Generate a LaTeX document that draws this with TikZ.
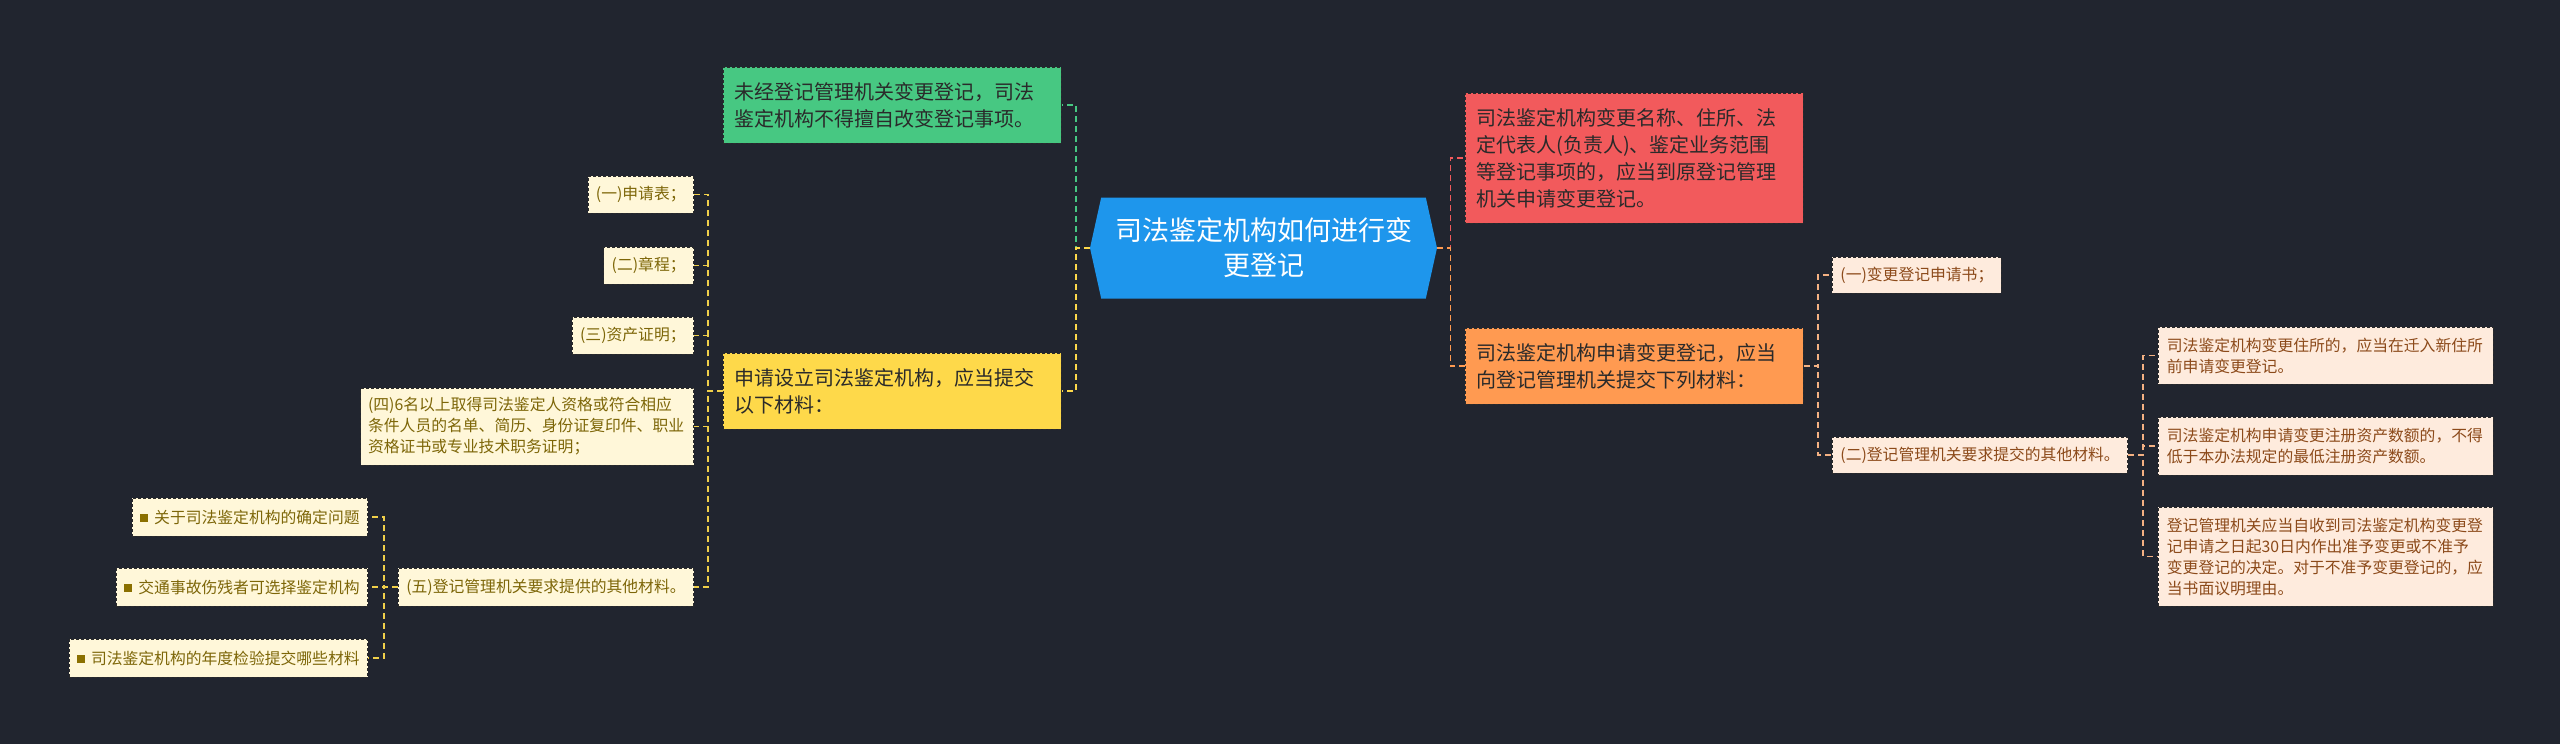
\documentclass[tikz,border=0pt]{standalone}
\usepackage{fontspec}
\newfontfamily\cjk{Noto Sans CJK SC}
\usetikzlibrary{shapes.symbols}
\XeTeXlinebreaklocale "zh"

\definecolor{bgdark}{HTML}{21252F}
\definecolor{rootblue}{HTML}{1E96EC}
\definecolor{topicgreen}{HTML}{47C882}
\definecolor{topicyellow}{HTML}{FED94A}
\definecolor{topicred}{HTML}{F25A5C}
\definecolor{topicorange}{HTML}{FF9A51}
\definecolor{textdark}{HTML}{2A2A2A}
\definecolor{boxedge}{HTML}{2B2B2B}
\definecolor{peach}{HTML}{FEEBDD}
\definecolor{peachtext}{HTML}{8C4A1A}
\definecolor{peachline}{HTML}{F4B183}
\definecolor{cream}{HTML}{FFF7D9}
\definecolor{creamtext}{HTML}{7D6608}
\definecolor{creamline}{HTML}{F0D04A}
\definecolor{bulletolive}{HTML}{8B7000}

\newcommand{\sqbullet}{\textcolor{bulletolive}{\raisebox{1.5pt}{\rule{8pt}{8pt}}}\hspace{6pt}}

\tikzset{
  root/.style={signal, signal to=west and east, signal pointer angle=155,
    fill=rootblue, text=white, align=center, text width=300pt,
    minimum width=347pt, minimum height=101pt, inner sep=0pt,
    font=\cjk\fontsize{27}{35}\selectfont},
  box/.style={draw=boxedge, line width=0.8pt, dash pattern=on 3pt off 2pt,
    align=left, inner xsep=11pt, inner ysep=5pt},
  topic/.style={box, text=textdark, font=\cjk\fontsize{20}{27}\selectfont},
  item/.style={box, inner xsep=8pt, font=\cjk\fontsize{15.8}{21}\selectfont},
  ritem/.style={item, fill=peach, text=peachtext},
  litem/.style={item, fill=cream, text=creamtext},
  link/.style={line width=1.4pt, dash pattern=on 6pt off 4pt},
}

\begin{document}
\begin{tikzpicture}[x=1pt, y=-1pt]
% 1. 背景
\fill[bgdark] (0,0) rectangle (2560,744);
\useasboundingbox (0,0) rectangle (2560,744);

% 2. 中心主题
\node[root] (root) at (1263.5,248) {司法鉴定机构如何进行变\\更登记};

% 3. 一级主题
\node[topic, fill=topicgreen, anchor=west, text width=316pt, minimum height=76pt] (unreg) at (723,105)
  {未经登记管理机关变更登记，司法\\鉴定机构不得擅自改变登记事项。};
\node[topic, fill=topicyellow, anchor=west, text width=316pt, minimum height=76pt] (setup) at (723,391)
  {申请设立司法鉴定机构，应当提交\\以下材料：};
\node[topic, fill=topicred, anchor=west, text width=316pt, minimum height=130pt] (alter) at (1465,158)
  {司法鉴定机构变更名称、住所、法\\定代表人(负责人)、鉴定业务范围\\等登记事项的，应当到原登记管理\\机关申请变更登记。};
\node[topic, fill=topicorange, anchor=west, text width=316pt, minimum height=76pt] (apply) at (1465,366)
  {司法鉴定机构申请变更登记，应当\\向登记管理机关提交下列材料：};

% 4. 右侧分支
\node[ritem, anchor=west, minimum height=36pt] (form) at (1832,275) {(一)变更登记申请书；};
\node[ritem, anchor=west, minimum height=36pt] (other) at (1832,455) {(二)登记管理机关要求提交的其他材料。};
\node[ritem, anchor=west, text width=318pt, inner xsep=8.5pt, minimum height=57pt] (addr) at (2158,355.5)
  {司法鉴定机构变更住所的，应当在迁入新住所\\前申请变更登记。};
\node[ritem, anchor=west, text width=318pt, inner xsep=8.5pt, minimum height=58pt] (capital) at (2158,446)
  {司法鉴定机构申请变更注册资产数额的，不得\\低于本办法规定的最低注册资产数额。};
\node[ritem, anchor=west, text width=318pt, inner xsep=8.5pt, minimum height=99pt] (decide) at (2158,556.5)
  {登记管理机关应当自收到司法鉴定机构变更登\\记申请之日起30日内作出准予变更或不准予\\变更登记的决定。对于不准予变更登记的，应\\当书面议明理由。};

% 5. 左侧分支
\node[litem, anchor=east, minimum height=37pt] (table) at (694,194.5) {(一)申请表；};
\node[litem, anchor=east, minimum height=37pt] (charter) at (694,265.5) {(二)章程；};
\node[litem, anchor=east, minimum height=37pt] (asset) at (694,335.5) {(三)资产证明；};
\node[litem, anchor=east, text width=318pt, inner xsep=7.5pt, minimum height=77pt] (staff) at (694,426.5)
  {(四)6名以上取得司法鉴定人资格或符合相应\\条件人员的名单、简历、身份证复印件、职业\\资格证书或专业技术职务证明；};
\node[litem, anchor=east, minimum height=38pt] (extra) at (694,587) {(五)登记管理机关要求提供的其他材料。};

\node[litem, anchor=east, minimum height=38pt] (rel1) at (368,517) {\sqbullet 关于司法鉴定机构的确定问题};
\node[litem, anchor=east, minimum height=38pt] (rel2) at (368,587) {\sqbullet 交通事故伤残者可选择鉴定机构};
\node[litem, anchor=east, minimum height=38pt] (rel3) at (368,658) {\sqbullet 司法鉴定机构的年度检验提交哪些材料};

% 6. 连线
\draw[link, draw=topicgreen] (root.west) -- ++(-14,0) |- (unreg.east);
\draw[link, draw=topicyellow] (root.west) -- ++(-14,0) |- (setup.east);
\draw[link, draw=topicred] (root.east) -- ++(13,0) |- (alter.west);
\draw[link, draw=topicorange] (root.east) -- ++(13,0) |- (apply.west);
\foreach \n in {form, other}
  \draw[link, draw=peachline] (apply.east) -- ++(14,0) |- (\n.west);
\foreach \n in {addr, capital, decide}
  \draw[link, draw=peachline] (other.east) -- ++(15,0) |- (\n.west);
\foreach \n in {table, charter, asset, staff, extra}
  \draw[link, draw=creamline] (setup.west) -- ++(-15,0) |- (\n.east);
\foreach \n in {rel1, rel2, rel3}
  \draw[link, draw=creamline] (extra.west) -- ++(-14,0) |- (\n.east);
\end{tikzpicture}
\end{document}
